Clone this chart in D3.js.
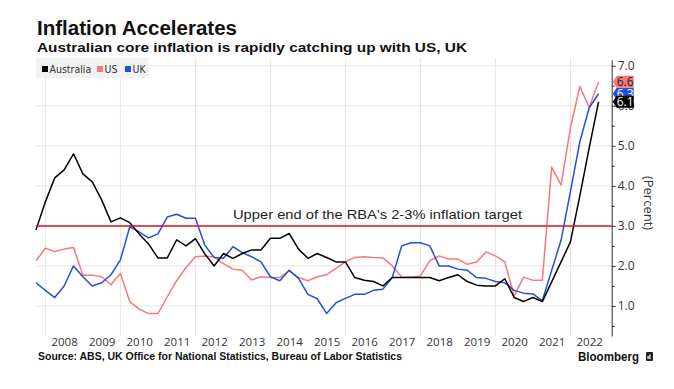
<!DOCTYPE html>
<html>
<head>
<meta charset="utf-8">
<script src="https://cdn.jsdelivr.net/npm/d3@7"></script>
<style>
  body { margin: 0; background: #fff; }
  svg { display: block; }
  text { font-family: 'Liberation Sans', Arial, sans-serif; }
</style>
</head>
<body>
<div id="chart"></div>
<script>
// quarterly readings, Q3 2007 .. Q3 2022 (year-over-year, %)
const firstQuarter = 2007.75;
const seriesNames = ['Australia', 'US', 'UK'];
const australia = [2.9, 3.6, 4.2, 4.4, 4.8, 4.3, 4.1, 3.65, 3.1, 3.2, 3.08, 2.8, 2.55, 2.2, 2.2, 2.65,
  2.5, 2.68, 2.3, 2.0, 2.31, 2.19, 2.31, 2.4, 2.4, 2.69, 2.69, 2.81, 2.42, 2.19, 2.31, 2.21,
  2.1, 2.1, 1.71, 1.64, 1.61, 1.5, 1.71, 1.71, 1.71, 1.71, 1.71, 1.63, 1.71, 1.78, 1.61, 1.52,
  1.5, 1.5, 1.68, 1.21, 1.11, 1.21, 1.11, 1.6, 2.1, 2.6, 3.75, 4.95, 6.1];
const us = [2.13, 2.44, 2.36, 2.42, 2.46, 1.77, 1.77, 1.73, 1.53, 1.81, 1.11, 0.92, 0.81, 0.81, 1.23, 1.63,
  1.96, 2.23, 2.25, 2.22, 2.06, 1.92, 1.89, 1.65, 1.73, 1.71, 1.71, 1.88, 1.71, 1.63, 1.73, 1.78,
  1.94, 2.1, 2.21, 2.23, 2.21, 2.2, 2.0, 1.72, 1.72, 1.75, 2.13, 2.25, 2.17, 2.17, 2.04, 2.1,
  2.35, 2.25, 2.1, 1.25, 1.72, 1.64, 1.64, 4.47, 4.02, 5.45, 6.48, 5.96, 6.6];
const uk = [1.58, 1.39, 1.21, 1.5, 2.0, 1.73, 1.5, 1.58, 1.78, 2.15, 2.98, 2.85, 2.7, 2.8, 3.22, 3.29,
  3.19, 3.19, 2.52, 2.21, 2.19, 2.48, 2.33, 2.23, 2.1, 1.73, 1.63, 1.89, 1.69, 1.29, 1.18, 0.81,
  1.08, 1.19, 1.29, 1.29, 1.39, 1.42, 1.71, 2.5, 2.58, 2.58, 2.5, 2.0, 2.0, 1.92, 1.89, 1.71,
  1.69, 1.61, 1.58, 1.39, 1.32, 1.3, 1.13, 1.89, 2.64, 3.86, 5.1, 5.95, 6.3];
const yearLabels = [2008, 2009, 2010, 2011, 2012, 2013, 2014, 2015, 2016, 2017, 2018, 2019, 2020, 2021, 2022];
const gridYears = [2008, 2010, 2012, 2014, 2016, 2018, 2020, 2022];
const yTicks = [1, 2, 3, 4, 5, 6, 7];
const yMinorTicks = [0.5, 1.5, 2.5, 3.5, 4.5, 5.5, 6.5];
const targetRate = 3.0;
const targetLabel = "Upper end of the RBA's 2-3% inflation target";

const colors = { Australia: '#000000', US: '#f47a7a', UK: '#2350d8' };
const labelText = { Australia: '#fff', US: '#222', UK: '#fff' };

const width = 674, height = 389;
const plot = { left: 36, right: 611.7, top: 58, bottom: 336 };

const svg = d3.select('#chart').append('svg')
  .attr('width', width)
  .attr('height', height);

const x = d3.scaleLinear()
  .domain([2007.75, 2023.1])
  .range([plot.left, plot.right]);

const y = d3.scaleLinear()
  .domain([0.25, 7.15])
  .range([plot.bottom, plot.top + 1.7]);

// Titles
svg.append('text')
  .attr('x', 37).attr('y', 35)
  .style('font-size', '20px').style('font-weight', 'bold').attr('fill', '#111')
  .attr('textLength', 200).attr('lengthAdjust', 'spacingAndGlyphs')
  .text('Inflation Accelerates');

svg.append('text')
  .attr('x', 37).attr('y', 52)
  .style('font-size', '13.5px').style('font-weight', 'bold').attr('fill', '#111')
  .attr('textLength', 430).attr('lengthAdjust', 'spacingAndGlyphs')
  .text('Australian core inflation is rapidly catching up with US, UK');

// gridlines
svg.append('g')
  .selectAll('line')
  .data(yTicks)
  .join('line')
  .attr('x1', plot.left).attr('x2', plot.right)
  .attr('y1', d => y(d)).attr('y2', d => y(d))
  .attr('stroke', '#e6e6e6');

svg.append('g')
  .selectAll('line')
  .data(gridYears)
  .join('line')
  .attr('x1', d => x(d)).attr('x2', d => x(d))
  .attr('y1', plot.top).attr('y2', plot.bottom)
  .attr('stroke', '#e6e6e6');

// legend
const legend = svg.append('g');
legend.append('rect')
  .attr('x', 36).attr('y', 58).attr('width', 113).attr('height', 20)
  .attr('fill', '#f2f2f2');
const legendX = [42, 97, 125];
seriesNames.forEach((name, i) => {
  legend.append('rect')
    .attr('x', legendX[i]).attr('y', 66).attr('width', 6).attr('height', 6)
    .attr('fill', colors[name]);
  legend.append('text')
    .attr('x', legendX[i] + 7.5).attr('y', 72.5)
    .style('font-size', '10.5px').attr('fill', '#333')
    .style('font-family', "'Liberation Sans Narrow', 'DejaVu Sans Condensed', sans-serif")
    .text(name);
});

// series lines
const line = d3.line()
  .x((d, i) => x(firstQuarter + i / 4))
  .y(d => y(d));

const seriesData = { Australia: australia, US: us, UK: uk };
['US', 'UK', 'Australia'].forEach(name => {
  svg.append('path')
    .datum(seriesData[name])
    .attr('fill', 'none')
    .attr('stroke', colors[name])
    .attr('stroke-width', 1.5)
    .attr('stroke-linejoin', 'round')
    .attr('d', line);
});

// target line + label
svg.append('line')
  .attr('x1', plot.left).attr('x2', plot.right)
  .attr('y1', y(targetRate)).attr('y2', y(targetRate))
  .attr('stroke', '#e3121b').attr('stroke-width', 1.5);

svg.append('text')
  .attr('x', 233).attr('y', y(targetRate) - 6.5)
  .style('font-size', '13.5px').attr('fill', '#222')
  .attr('textLength', 289).attr('lengthAdjust', 'spacingAndGlyphs')
  .text(targetLabel);

// right axis
const yAxis = svg.append('g')
  .attr('transform', `translate(${plot.right},0)`)
  .call(d3.axisRight(y).tickValues(yTicks).tickFormat(d3.format('.1f')).tickSize(4).tickSizeOuter(0).tickPadding(2));
yAxis.select('.domain').attr('stroke', '#333');
yAxis.selectAll('.tick line').attr('stroke', '#333');
yAxis.selectAll('text').style('font-size', '12px').attr('fill', '#333')
  .style('font-family', "'Open Sans', 'Liberation Sans', sans-serif");

svg.append('g')
  .attr('transform', `translate(${plot.right},0)`)
  .call(d3.axisRight(y).tickValues(yMinorTicks).tickFormat('').tickSize(3).tickSizeOuter(0))
  .call(g => g.select('.domain').remove())
  .selectAll('.tick line').attr('stroke', '#333');

svg.append('text')
  .attr('transform', `translate(644,203) rotate(90)`)
  .attr('text-anchor', 'middle')
  .style('font-size', '13px').attr('fill', '#333')
  .style('font-family', "'Open Sans', 'Liberation Sans', sans-serif")
  .text('(Percent)');

// last value tags
['UK', 'US', 'Australia'].forEach(name => {
  const vals = seriesData[name];
  const v = vals[vals.length - 1];
  const cy = y(v);
  const g = svg.append('g');
  g.append('path')
    .attr('d', `M${plot.right + 1},${cy} L${plot.right + 5},${cy - 6} L${plot.right + 22},${cy - 6} L${plot.right + 22},${cy + 6} L${plot.right + 5},${cy + 6} Z`)
    .attr('fill', colors[name]);
  g.append('text')
    .attr('x', plot.right + 5).attr('y', cy + 4.5)
    .style('font-size', '12px').attr('fill', labelText[name])
    .style('font-family', "'Open Sans', 'Liberation Sans', sans-serif")
    .text(d3.format('.1f')(v));
});

// x axis (year labels centred in each year)
const xAxis = svg.append('g')
  .attr('transform', `translate(0,${plot.bottom})`)
  .call(d3.axisBottom(x).tickValues(yearLabels.map(d => d + 0.5)).tickFormat(d => Math.floor(d)).tickSize(0).tickPadding(2));
xAxis.select('.domain').remove();
xAxis.selectAll('text').style('font-size', '11.5px').attr('fill', '#333')
  .style('font-family', "'Open Sans', 'Liberation Sans', sans-serif");

// footer
svg.append('text')
  .attr('x', 38).attr('y', 360)
  .style('font-size', '10.5px').style('font-weight', 'bold').attr('fill', '#111')
  .attr('textLength', 364).attr('lengthAdjust', 'spacingAndGlyphs')
  .text('Source: ABS, UK Office for National Statistics, Bureau of Labor Statistics');

svg.append('text')
  .attr('x', 578).attr('y', 361)
  .style('font-size', '13px').style('font-weight', 'bold').attr('fill', '#111')
  .attr('textLength', 61).attr('lengthAdjust', 'spacingAndGlyphs')
  .text('Bloomberg');

const logo = svg.append('g').attr('transform', 'translate(646,352)');
logo.append('rect').attr('width', 7).attr('height', 9).attr('rx', 1).attr('fill', '#222');
logo.append('rect').attr('x', 1.5).attr('y', 4).attr('width', 1.2).attr('height', 3).attr('fill', '#fff');
logo.append('rect').attr('x', 3.3).attr('y', 2.5).attr('width', 1.2).attr('height', 4.5).attr('fill', '#fff');
</script>
</body>
</html>
